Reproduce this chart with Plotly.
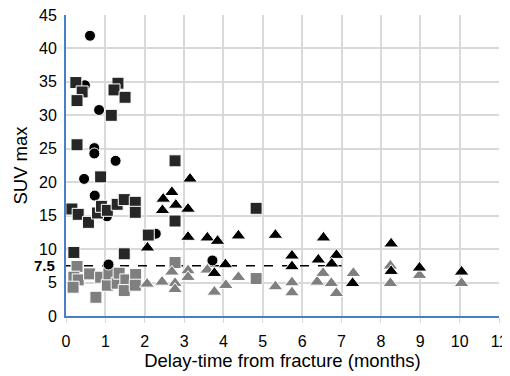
import plotly.graph_objects as go

# Dark squares
sq_dark_x = [0.25, 0.41, 0.28, 1.32, 1.22, 1.5, 1.15, 0.28, 0.88, 0.15, 0.31, 0.57, 0.8, 0.9, 1.05, 1.3, 1.48, 1.76, 1.76, 2.77, 2.77, 2.09, 0.2, 1.48, 4.83]
sq_dark_y = [34.9, 33.5, 32.2, 34.8, 33.8, 32.7, 30.0, 25.6, 20.8, 16.0, 15.2, 14.0, 15.4, 16.4, 15.8, 16.7, 17.4, 17.0, 15.5, 23.2, 14.2, 12.1, 9.5, 9.3, 16.1]

# Black circles
circ_x = [0.61, 0.84, 0.72, 0.72, 1.26, 0.46, 0.73, 1.08, 2.28, 3.72, 1.04, 0.48]
circ_y = [41.9, 30.8, 25.1, 24.3, 23.2, 20.5, 18.0, 7.7, 12.3, 8.3, 14.9, 34.5]

# Grey squares
sq_grey_x = [0.28, 0.2, 0.31, 0.18, 0.6, 0.88, 0.76, 1.05, 1.09, 1.3, 1.35, 1.52, 1.48, 1.77, 1.76, 2.77, 4.83]
sq_grey_y = [7.4, 5.8, 5.4, 4.3, 6.3, 5.8, 2.8, 4.6, 6.3, 4.9, 6.4, 5.4, 3.8, 6.2, 4.6, 8.0, 5.6]

# Grey triangles
tri_grey_x = [2.69, 3.1, 3.1, 2.77, 2.77, 3.59, 3.77, 4.06, 4.38, 5.32, 5.74, 5.74, 6.38, 6.53, 6.74, 6.87, 7.3, 8.24, 8.24, 8.98, 10.05, 2.06, 2.44]
tri_grey_y = [6.6, 6.8, 5.8, 4.9, 4.0, 6.9, 3.6, 4.6, 5.8, 4.4, 5.0, 3.5, 5.1, 6.4, 4.9, 3.4, 6.4, 4.9, 7.5, 6.1, 4.9, 4.8, 5.1]

# Black triangles
tri_black_x = [3.15, 2.69, 2.79, 3.1, 3.1, 3.59, 3.85, 4.38, 5.32, 6.54, 5.74, 5.74, 6.41, 6.87, 6.75, 4.05, 3.77, 2.47, 2.45, 2.07, 8.26, 8.26, 8.98, 10.05, 7.28]
tri_black_y = [20.5, 18.5, 16.6, 16.0, 11.8, 11.7, 11.2, 12.0, 12.1, 11.7, 9.0, 7.4, 8.4, 9.1, 7.8, 7.7, 6.4, 17.5, 15.8, 10.2, 10.8, 6.7, 7.2, 6.6, 4.9]

threshold = 7.5
threshold_x = [0, 7]

y_ticks = [0, 5, 10, 15, 20, 25, 30, 35, 40, 45]
x_ticks = list(range(0, 12))

FONT = "Liberation Sans, Arial"

fig = go.Figure()

fig.add_trace(go.Scatter(x=threshold_x, y=[threshold, threshold], mode="lines",
                         line=dict(color="black", width=1.5, dash="dash"), hoverinfo="skip"))

def add(x, y, symbol, color, size):
    fig.add_trace(go.Scatter(x=x, y=y, mode="markers",
                             marker=dict(symbol=symbol, color=color, size=size,
                                         line=dict(color="white", width=1))))

add(sq_grey_x, sq_grey_y, "square", "#7f7f7f", 12)
add(circ_x, circ_y, "circle", "#000000", 11)
add(sq_dark_x, sq_dark_y, "square", "#262626", 12)
add(tri_grey_x, tri_grey_y, "triangle-up", "#7f7f7f", 13)
add(tri_black_x, tri_black_y, "triangle-up", "#000000", 13)

fig.add_annotation(x=0, xref="paper", y=threshold, yref="y", text="<b>7.5</b>",
                   showarrow=False, xanchor="right", xshift=-9,
                   font=dict(family=FONT, size=15, color="black"))

# page body has an 8px default margin, so the figure is offset by 8px
fig.update_layout(
    width=502, height=368,
    margin=dict(l=58, r=11, t=7, b=60),
    paper_bgcolor="white", plot_bgcolor="white",
    showlegend=False,
    font=dict(family=FONT, size=16, color="black"),
    xaxis=dict(range=[0, 11], tickvals=x_ticks, showgrid=True, gridcolor="#d9d9d9", gridwidth=2,
               zeroline=False, showline=True, linecolor="#4a7fc8", linewidth=2,
               ticks="outside", ticklen=5, tickcolor="#d9d9d9", tickwidth=1,
               ticklabelstandoff=5, ticklabeloverflow="allow", automargin=False,
               title=dict(text="Delay-time from fracture (months)", font=dict(size=18.5), standoff=5)),
    yaxis=dict(range=[0, 45], tickvals=y_ticks, showgrid=True, gridcolor="#d9d9d9", gridwidth=2,
               zeroline=False, showline=True, linecolor="#4a7fc8", linewidth=2,
               ticks="", ticklabelstandoff=4, ticklabeloverflow="allow", automargin=False,
               title=dict(text="SUV max", font=dict(size=18.5), standoff=7)),
)

fig.write_html("out.html")
